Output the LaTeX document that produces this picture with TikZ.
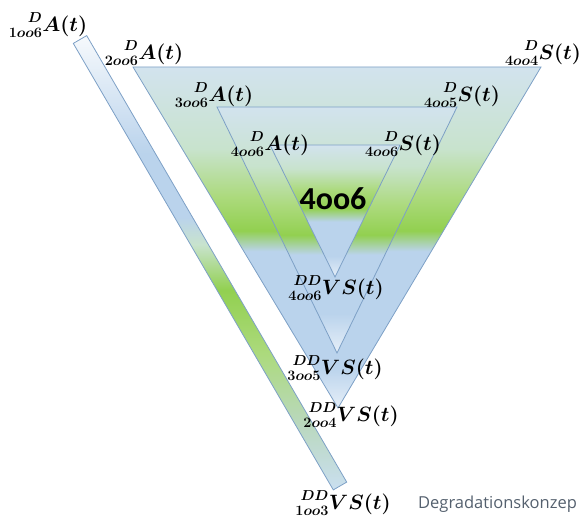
\documentclass[tikz,border=0pt]{standalone}
\usepackage{amsmath}
\usepackage{mathtools}
\usepackage{fontspec}
\usetikzlibrary{positioning}
\newfontfamily\capfont{Carlito}
\newfontfamily\notefont{Open Sans}
\definecolor{colEdge}{RGB}{125,160,198}
\definecolor{colTop}{RGB}{210,227,238}
\definecolor{colPaleGreen}{RGB}{200,227,205}
\definecolor{colGreen}{RGB}{146,208,80}
\definecolor{colGreenSoft}{RGB}{172,218,125}
\definecolor{colBlue}{RGB}{186,211,236}
\definecolor{colTipPale}{RGB}{230,239,248}
\definecolor{colBarTop}{RGB}{246,249,252}
\definecolor{colBarLow}{RGB}{186,216,192}
\definecolor{colBarEnd}{RGB}{202,223,240}
\definecolor{colNote}{RGB}{84,96,110}
% vertical fills, path box mapped to 25bp..75bp
\pgfdeclareverticalshading{outershade}{100bp}{color(0bp)=(colTipPale); color(25bp)=(colTipPale);
    color(31bp)=(colBlue); color(48bp)=(colBlue); color(51bp)=(colGreen); color(56bp)=(colGreenSoft);
    color(63bp)=(colPaleGreen); color(75bp)=(colTop); color(100bp)=(colTop)}
\pgfdeclareverticalshading{midshade}{100bp}{color(0bp)=(colTipPale); color(25bp)=(colTipPale);
    color(33bp)=(colBlue); color(45bp)=(colBlue); color(49bp)=(colGreen); color(55bp)=(colGreenSoft);
    color(63bp)=(colPaleGreen); color(75bp)=(colTop); color(100bp)=(colTop)}
\pgfdeclareverticalshading{innershade}{100bp}{color(0bp)=(colTipPale); color(25bp)=(colTipPale);
    color(33bp)=(colBlue); color(46bp)=(colBlue); color(51bp)=(colGreen); color(58bp)=(colGreenSoft);
    color(66bp)=(colPaleGreen); color(75bp)=(colTop); color(100bp)=(colTop)}
\pgfdeclareverticalshading{barshade}{100bp}{color(0bp)=(colBarEnd); color(25bp)=(colBarEnd);
    color(32bp)=(colBarLow); color(40bp)=(colGreenSoft); color(47bp)=(colGreen); color(52bp)=(colPaleGreen);
    color(55bp)=(colBlue); color(62bp)=(colBlue); color(75bp)=(colBarTop); color(100bp)=(colBarTop)}
\tikzset{
    tri/.style={shade, draw=colEdge, line width=0.8pt},
    lbl/.style={inner sep=0pt, anchor=south, font=\fontsize{20}{22}\selectfont\boldmath},
    note/.style={inner sep=0pt, anchor=base west, text=colNote, font=\notefont\fontsize{16.5}{20}\selectfont}
}

\begin{document}
\begin{tikzpicture}[x=1pt, y=-1pt]
    \useasboundingbox (0,0) rectangle (583,521);

    % corners
    \coordinate (barTL) at (73.3,43.4);
    \coordinate (barTR) at (86.7,35.6);
    \coordinate (barBR) at (346.7,482.1);
    \coordinate (barBL) at (333.3,489.9);
    \coordinate (outL) at (133,67);
    \coordinate (outR) at (541,67);
    \coordinate (outB) at (338,408);
    \coordinate (midL) at (217,107);
    \coordinate (midR) at (457,107);
    \coordinate (midB) at (337,353);
    \coordinate (inL) at (270,145);
    \coordinate (inR) at (400,145);
    \coordinate (inB) at (335,277);

    \path[tri, shading=barshade] (barTL) -- (barTR) -- (barBR) -- (barBL) -- cycle;
    \path[tri, shading=outershade] (outL) -- (outR) -- (outB) -- cycle;
    \path[tri, shading=midshade] (midL) -- (midR) -- (midB) -- cycle;
    \path[tri, shading=innershade] (inL) -- (inR) -- (inB) -- cycle;

    \node[font=\capfont\bfseries\fontsize{32}{36}\selectfont] (core) at (333,199) {4oo6};

    \node[lbl] (aOne) at (48,38) {$\prescript{D}{1oo6}{A}(t)$};
    \node[lbl] (aTwo) at (144,66) {$\prescript{D}{2oo6}{A}(t)$};
    \node[lbl] (aThree) at (214,108) {$\prescript{D}{3oo6}{A}(t)$};
    \node[lbl] (aFour) at (270,157) {$\prescript{D}{4oo6}{A}(t)$};
    \node[lbl] (sSix) at (403,157) {$\prescript{D}{4oo6}{S}(t)$};
    \node[lbl] (sFive) at (462,108) {$\prescript{D}{4oo5}{S}(t)$};
    \node[lbl] (sFour) at (543,66) {$\prescript{D}{4oo4}{S}(t)$};
    \node[lbl] (vsSix) at (336,301) {$\prescript{DD}{4oo6}{VS}(t)$};
    \node[lbl] (vsFive) at (335,381) {$\prescript{DD}{3oo5}{VS}(t)$};
    \node[lbl] (vsFour) at (351,428) {$\prescript{DD}{2oo4}{VS}(t)$};
    \node[lbl] (vsThree) at (343,516) {$\prescript{DD}{1oo3}{VS}(t)$};

    \node[note] (caption) at (418,508) {Degradationskonzep};

\end{tikzpicture}
\end{document}
